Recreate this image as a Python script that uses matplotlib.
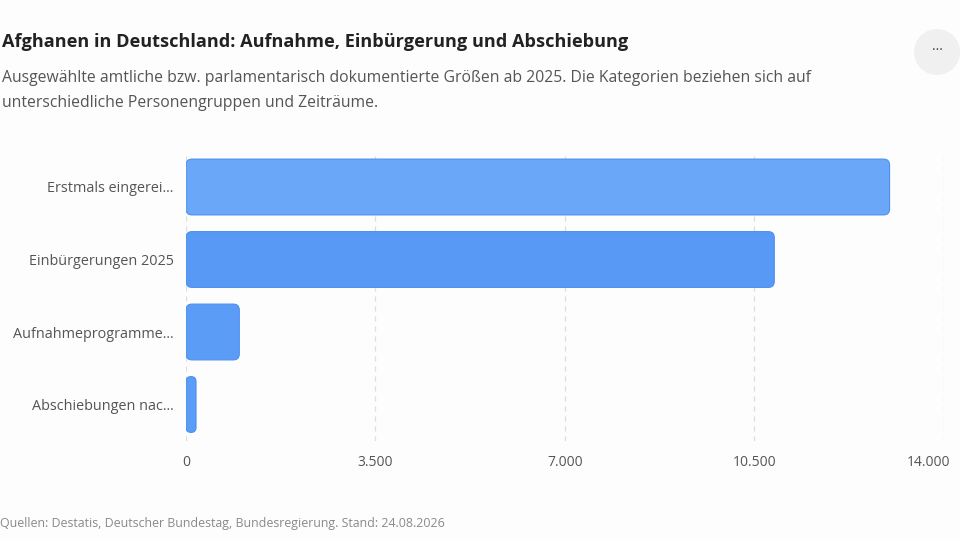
import matplotlib.pyplot as plt
import matplotlib.patches as patches
import matplotlib.transforms as mtransforms
from matplotlib.ticker import FuncFormatter

# --- Data ---
CATEGORIES = ['Erstmals eingerei...', 'Einbürgerungen 2025', 'Aufnahmeprogramme...', 'Abschiebungen nac...']
VALUES = [13000, 10870, 985, 185]
BAR_COLORS = ['#6BA7F8', '#5899F5', '#5B9CF6', '#5B9CF6']
X_TICKS = [0, 3500, 7000, 10500, 14000]

TITLE = "Afghanen in Deutschland: Aufnahme, Einbürgerung und Abschiebung"
SUBTITLE = ("Ausgewählte amtliche bzw. parlamentarisch dokumentierte Größen ab 2025. Die Kategorien beziehen sich auf\n"
            "unterschiedliche Personengruppen und Zeiträume.")
SOURCE = "Quellen: Destatis, Deutscher Bundestag, Bundesregierung. Stand: 24.08.2026"

plt.rcParams['font.family'] = ['Open Sans', 'DejaVu Sans']

W, H, DPI = 960, 540, 100
fig = plt.figure(figsize=(W / DPI, H / DPI), dpi=DPI)
fig.patch.set_facecolor('#FDFDFD')

# axes placed in pixel terms: x 186..943.7, y 150.75..440.75
left, right, top, bottom = 186, 943.7, 150.75, 440.75
ax = fig.add_axes([left / W, 1 - bottom / H, (right - left) / W, (bottom - top) / H])
ax.set_facecolor('none')

ypos = list(range(len(CATEGORIES)))
bars = ax.barh(ypos, VALUES, height=0.77, color=BAR_COLORS)
ax.set_xlim(0, 14000)
ax.set_ylim(len(CATEGORIES) - 0.5, -0.5)

# --- Rounded bars: replace rectangles with FancyBboxPatch ---
x_per_px = 14000 / (right - left)
y_per_px = len(CATEGORIES) / (bottom - top)
for rect, col in zip(bars.patches, BAR_COLORS):
    x0, y0 = rect.get_x(), rect.get_y()
    w, h = rect.get_width(), rect.get_height()
    rect.remove()
    w_px = w / x_per_px
    r_px = min(6, w_px / 2)
    fb = patches.FancyBboxPatch(
        (x0, y0), w, h,
        boxstyle=patches.BoxStyle.Round(pad=0, rounding_size=r_px * x_per_px),
        mutation_aspect=y_per_px / x_per_px,
        facecolor=col, edgecolor='#4E90F0', linewidth=0.8, zorder=3)
    ax.add_patch(fb)

# --- Axes styling ---
ax.set_xticks(X_TICKS)
ax.xaxis.set_major_formatter(FuncFormatter(lambda v, p: f"{int(v):,}".replace(',', '.')))
ax.set_yticks(ypos)
ax.set_yticklabels(CATEGORIES)
ax.tick_params(axis='both', length=0, colors='#555555', labelsize=10)
ax.tick_params(axis='y', labelsize=10.4)
ax.tick_params(axis='x', pad=10)
ax.tick_params(axis='y', pad=9)
for s in ax.spines.values():
    s.set_visible(False)
ax.grid(axis='x', color='#DDDDDD', linestyle=(0, (4, 4)), linewidth=0.9, zorder=0)
ax.set_axisbelow(True)

# keep last x label inside the canvas
fig.canvas.draw()
last = ax.get_xticklabels()[-1]
last.set_horizontalalignment('right')
last.set_transform(last.get_transform() + mtransforms.ScaledTranslation(7 / DPI, 0, fig.dpi_scale_trans))

# --- Texts ---
fig.text(2 / W, 1 - 42 / H, TITLE, fontsize=13.1, fontweight='bold', color='#222222', va='center', ha='left')
fig.text(2 / W, 1 - 90.5 / H, SUBTITLE, fontsize=11.3, color='#555555', va='center', ha='left', linespacing=1.8)
fig.text(0 / W, 1 - 524 / H, SOURCE, fontsize=8.9, color='#8A8A8A', va='center', ha='left')

# menu button
fig.patches.append(patches.Ellipse((937 / W, 1 - 52 / H), 46 / W, 46 / H, transform=fig.transFigure,
                                   facecolor='#F0F0F0', edgecolor='none'))
fig.text(937 / W, 1 - 51 / H, '···', fontsize=10, color='#444444', ha='center', va='center')

fig.savefig('out.png', dpi=DPI, facecolor=fig.get_facecolor())
